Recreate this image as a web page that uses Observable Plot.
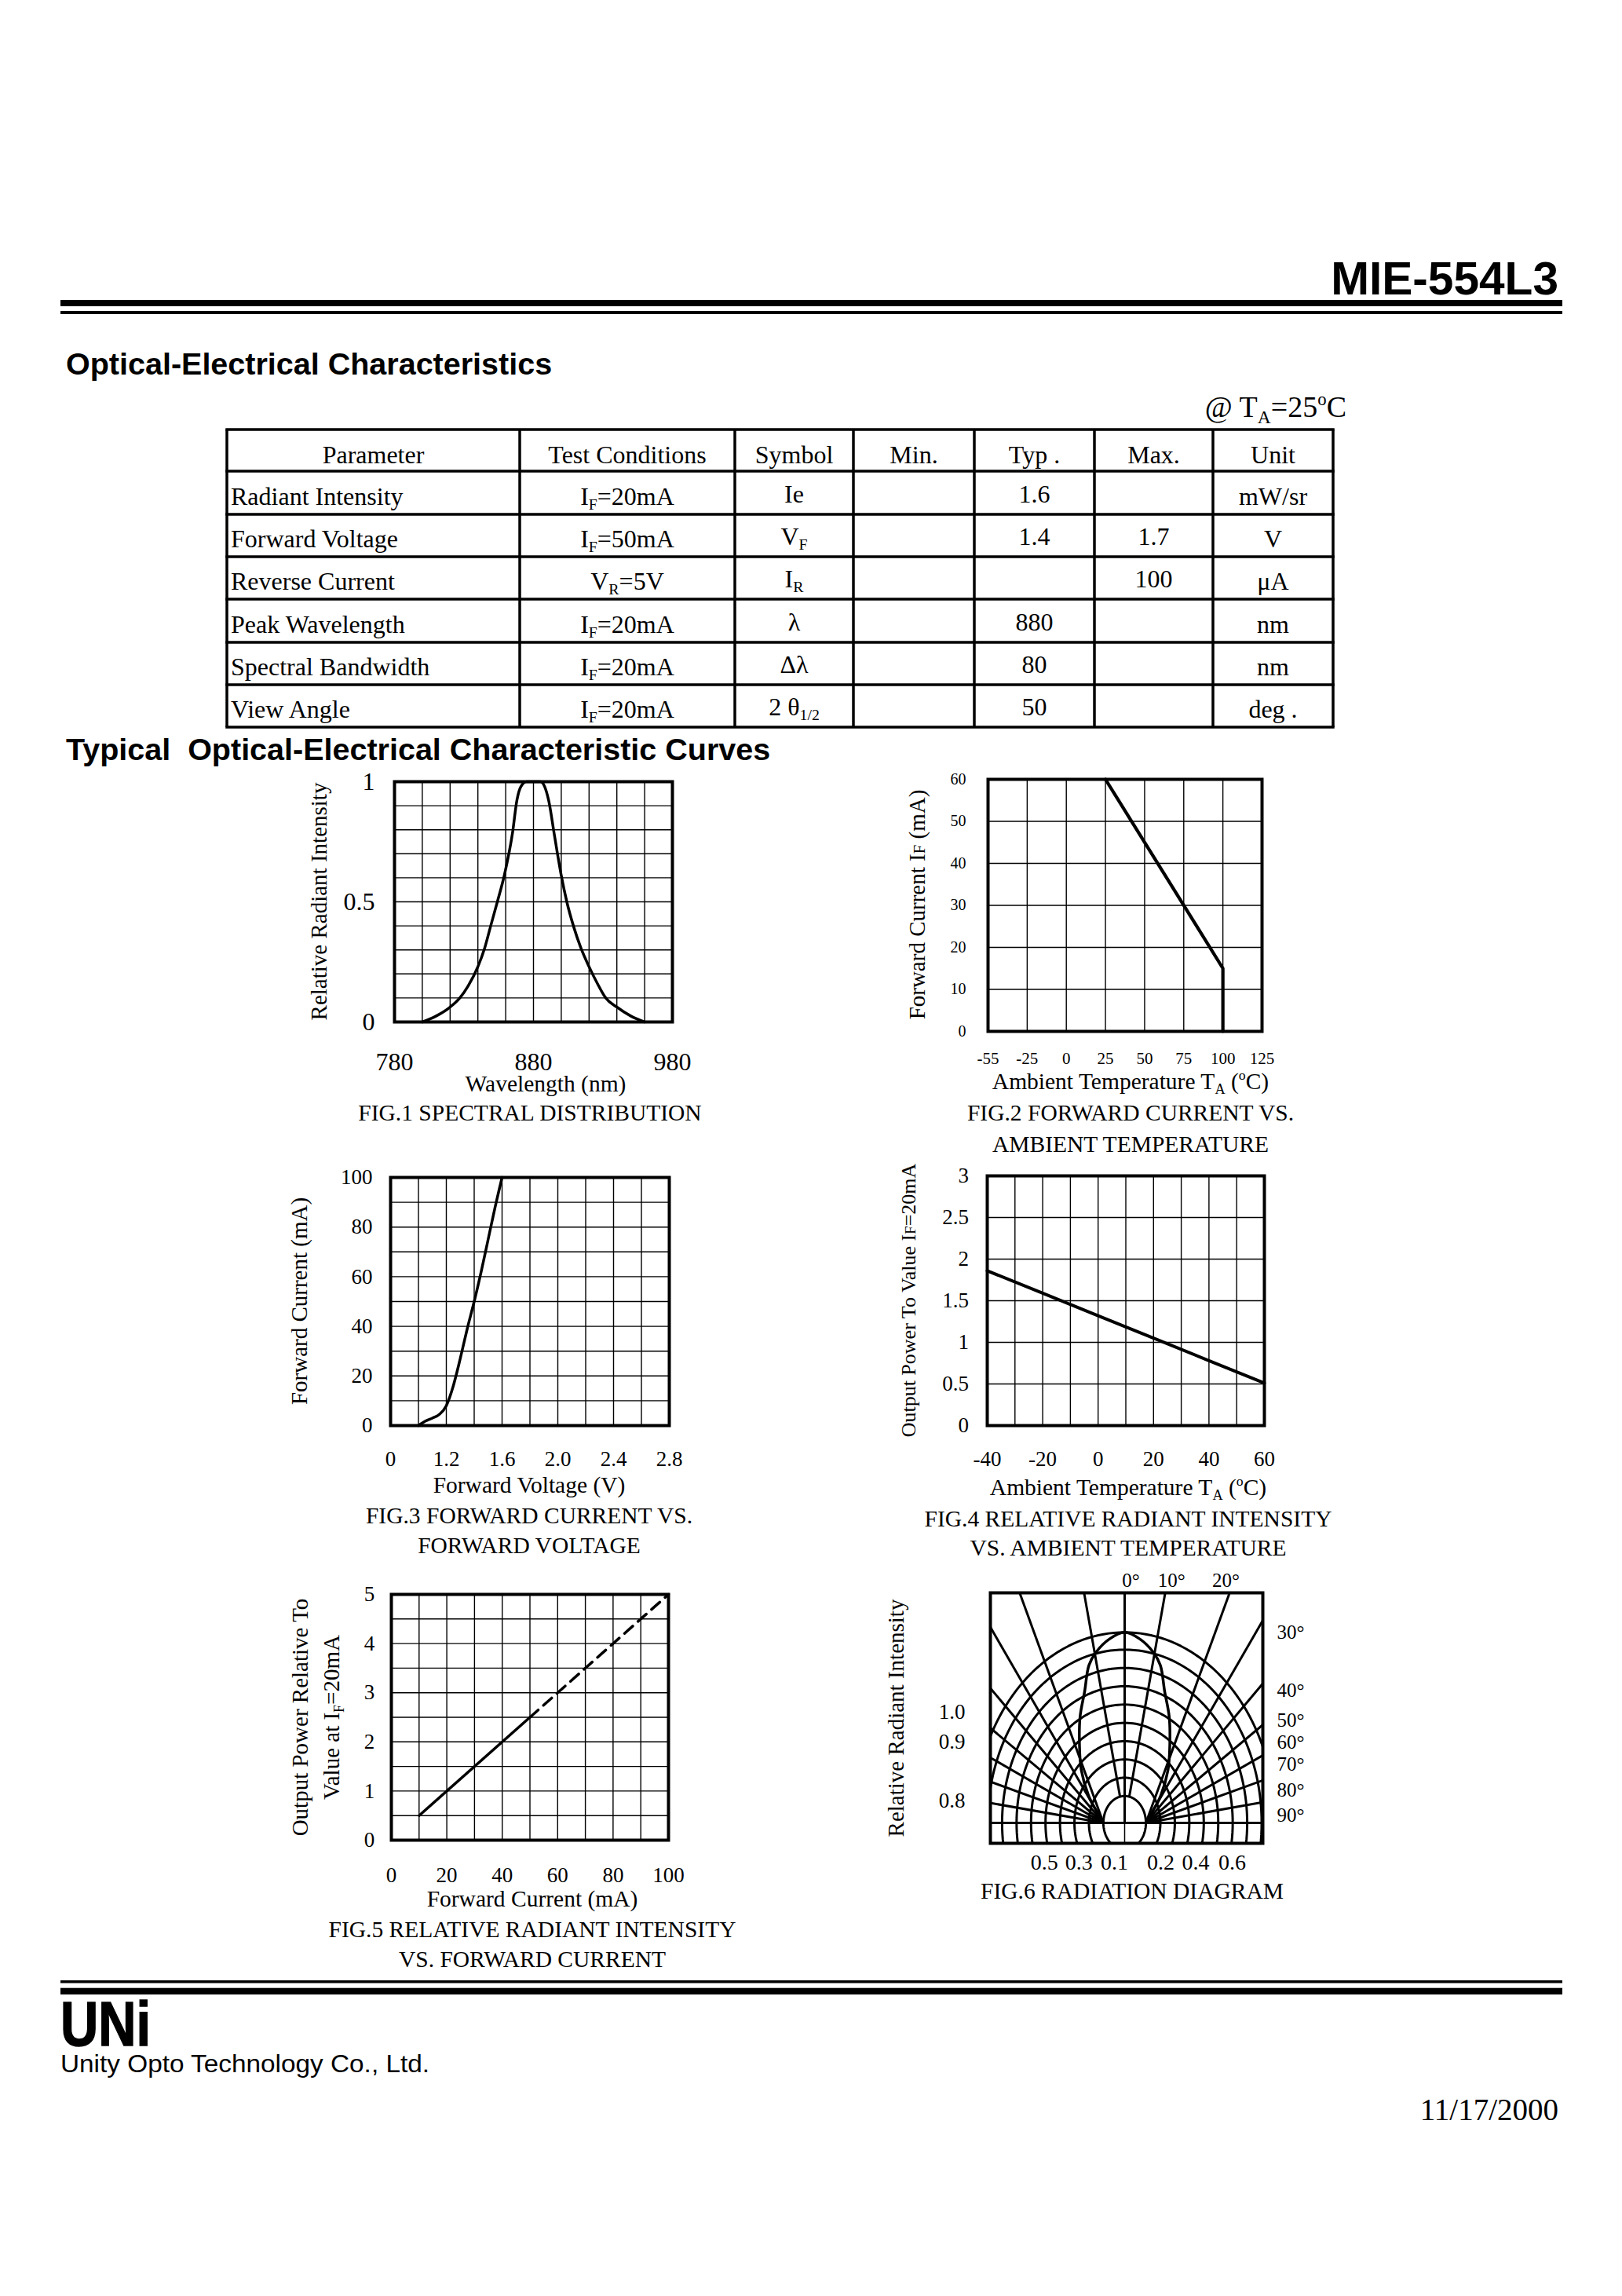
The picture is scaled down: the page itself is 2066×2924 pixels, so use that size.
<!DOCTYPE html>
<html><head><meta charset="utf-8">
<script src="https://cdn.jsdelivr.net/npm/d3@7"></script>
<script src="https://cdn.jsdelivr.net/npm/@observablehq/plot@0.6"></script>
<style>
html,body{margin:0;padding:0;background:#fff;overflow:hidden;}
#page{position:relative;width:2066px;height:2924px;background:#fff;overflow:hidden;}
#page svg.layer{position:absolute;left:0;top:0;}
</style></head><body><div id="page"></div>
<script>
// ---------------- DATA ----------------
const partNumber = "MIE-554L3";
const headingTable = "Optical-Electrical Characteristics";
const headingCurves = "Typical  Optical-Electrical Characteristic Curves";
const companyName = "Unity Opto Technology Co., Ltd.";
const docDate = "11/17/2000";

const tableHeader = ["Parameter","Test Conditions","Symbol","Min.","Typ .","Max.","Unit"];
const tableParameters = ["Radiant Intensity","Forward Voltage","Reverse Current","Peak Wavelength","Spectral Bandwidth","View Angle"];
const tableConditions = [["I","F","=20mA"],["I","F","=50mA"],["V","R","=5V"],["I","F","=20mA"],["I","F","=20mA"],["I","F","=20mA"]];
const tableSymbols = [["Ie",""],["V","F"],["I","R"],["λ",""],["Δλ",""],["2 θ","1/2"]];
const tableMin = ["","","","","",""];
const tableTyp = ["1.6","1.4","","880","80","50"];
const tableMax = ["","1.7","100","","",""];
const tableUnits = ["mW/sr","V","μA","nm","nm","deg ."];

// FIG.1 spectral distribution
const fig1Wavelength = [800,810,820,827,833,840,845,849,854,859,865,868,871,875,880,885,888,891,895,900,904,909,914,920,926,932,940,950,960];
const fig1Intensity  = [0,0.025,0.062,0.10,0.15,0.23,0.31,0.395,0.50,0.61,0.79,0.92,0.98,1.0,1.0,1.0,0.98,0.92,0.78,0.61,0.50,0.395,0.31,0.23,0.16,0.10,0.062,0.025,0];
const fig1GridX = [780,800,820,840,860,880,900,920,940,960,980];
const fig1GridY = [0,0.1,0.2,0.3,0.4,0.5,0.6,0.7,0.8,0.9,1];
const fig1TicksX = [780,880,980];
const fig1TicksY = [0,0.5,1];

// FIG.2 forward current vs ambient temperature (first column labelled -55)
const fig2Temp = [25,100,100];
const fig2Current = [60,15,0];
const fig2GridX = [-50,-25,0,25,50,75,100,125];
const fig2TickLabelsX = ["-55","-25","0","25","50","75","100","125"];
const fig2TicksY = [0,10,20,30,40,50,60];

// FIG.3 forward current vs forward voltage (axis starts at 0.8 V, labelled 0)
const fig3Voltage = [1.0,1.05,1.1,1.15,1.2,1.25,1.3,1.35,1.4,1.45,1.5,1.55,1.6];
const fig3Current = [0,1.8,3,4.5,8,16,27,39,50,62,75,88,100];
const fig3GridX = [0.8,1.0,1.2,1.4,1.6,1.8,2.0,2.2,2.4,2.6,2.8];
const fig3GridY = [0,10,20,30,40,50,60,70,80,90,100];
const fig3TicksX = [0.8,1.2,1.6,2.0,2.4,2.8];
const fig3TickLabelsX = ["0","1.2","1.6","2.0","2.4","2.8"];
const fig3TicksY = [0,20,40,60,80,100];

// FIG.4 relative radiant intensity vs ambient temperature
const fig4Temp = [-40,-20,0,20,40,60];
const fig4Power = [1.86,1.59,1.32,1.05,0.78,0.51];
const fig4GridX = [-40,-30,-20,-10,0,10,20,30,40,50,60];
const fig4GridY = [0,0.5,1,1.5,2,2.5,3];
const fig4TicksX = [-40,-20,0,20,40,60];
const fig4TicksY = [0,0.5,1,1.5,2,2.5,3];

// FIG.5 relative radiant intensity vs forward current
const fig5SolidCurrent = [10,50];
const fig5SolidPower = [0.5,2.5];
const fig5DashCurrent = [50,100];
const fig5DashPower = [2.5,5];
const fig5GridX = [0,10,20,30,40,50,60,70,80,90,100];
const fig5GridY = [0,0.5,1,1.5,2,2.5,3,3.5,4,4.5,5];
const fig5TicksX = [0,20,40,60,80,100];
const fig5TicksY = [0,1,2,3,4,5];

// FIG.6 radiation diagram
const fig6RingRadii = [0.141,0.237,0.333,0.429,0.525,0.621,0.717,0.813,0.909,1.0];
const fig6RadialAngles = [10,20,30,40,50,60,70,80];
const fig6LobeAngle = [0,6,12,16,21,28,36,46,59,72,90];
const fig6LobeIntensity = [1.0,0.97,0.915,0.86,0.74,0.63,0.51,0.40,0.28,0.195,0.141];
const fig6TopLabels = [{t:"0°",x:0.042},{t:"10°",x:0.311},{t:"20°",x:0.672}];
const fig6RightLabels = [{t:"30°",y:1.0},{t:"40°",y:0.693},{t:"50°",y:0.539},{t:"60°",y:0.423},{t:"70°",y:0.306},{t:"80°",y:0.169},{t:"90°",y:0.038}];
const fig6LeftLabels = [{t:"1.0",y:0.58},{t:"0.9",y:0.424},{t:"0.8",y:0.115}];
const fig6BottomLabels = [{t:"0.5",x:-0.533},{t:"0.3",x:-0.303},{t:"0.1",x:-0.068},{t:"0.2",x:0.24},{t:"0.4",x:0.471},{t:"0.6",x:0.713}];

// ---------------- HELPERS ----------------
const page = document.getElementById("page");
const serif = "'Liberation Serif','Times New Roman',serif";
const sans = "'Liberation Sans',Arial,Helvetica,sans-serif";

function rich(sel, x, y, parts, o = {}) {
  const size = o.size || 29.5;
  const t = sel.append("text")
    .attr("font-family", o.family || serif)
    .attr("font-size", size)
    .attr("text-anchor", o.anchor || "middle")
    .attr("fill", "#000")
    .style("white-space", "pre");
  if (o.weight) t.attr("font-weight", o.weight);
  if (o.rotate) t.attr("transform", `translate(${x},${y}) rotate(-90)`);
  else t.attr("x", x).attr("y", y);
  if (o.textLength) t.attr("textLength", o.textLength).attr("lengthAdjust", "spacingAndGlyphs");
  if (o.stroke) t.attr("stroke", "#000").attr("stroke-width", o.stroke);
  let shift = 0;
  for (const p of parts) {
    const s = typeof p === "string" ? {t: p} : p;
    if (s.t === "") continue;
    let target = 0, fs = size;
    if (s.sub) { target = size * 0.2; fs = size * 0.62; }
    else if (s.sup) { target = -size * 0.4; fs = size * 0.6; }
    else if (s.small) { fs = size * 0.72; }
    const ts = t.append("tspan").attr("font-size", fs).text(s.t);
    if (target !== shift) { ts.attr("dy", target - shift); shift = target; }
  }
  return t;
}

// ---------------- PAGE LAYER ----------------
const layer = d3.create("svg").attr("class","layer").attr("width",2066).attr("height",2924);
page.appendChild(layer.node());
layer.append("rect").attr("x",77).attr("y",382).attr("width",1913).attr("height",8);
layer.append("rect").attr("x",77).attr("y",396).attr("width",1913).attr("height",4);
rich(layer, 1985, 375, [partNumber], {size:58.6, family:sans, weight:"bold", anchor:"end"});
rich(layer, 84, 477, [headingTable], {size:39.5, family:sans, weight:"bold", anchor:"start"});
rich(layer, 1715, 531, ["@ T", {t:"A", sub:true}, "=25", {t:"o", sup:true}, "C"], {size:38, anchor:"end"});

// table
const colX = [289, 662, 936, 1087, 1241, 1394, 1545, 1698];
const rowY = [547, 600, 655, 709, 763, 818, 872, 926];
const tg = layer.append("g").attr("stroke","#000").attr("stroke-width",3.5);
rowY.forEach(y => tg.append("line").attr("x1", colX[0]-1.75).attr("x2", colX[7]+1.75).attr("y1", y).attr("y2", y));
colX.forEach(x => tg.append("line").attr("x1", x).attr("x2", x).attr("y1", rowY[0]).attr("y2", rowY[7]));
const colC = colX.slice(0,-1).map((x,i) => (x + colX[i+1]) / 2);
tableHeader.forEach((h,i) => rich(layer, colC[i], rowY[1]-10, [h], {size:32}));
for (let r = 0; r < tableParameters.length; r++) {
  const yb = rowY[r+2];
  rich(layer, 294, yb-12, [tableParameters[r]], {size:32, anchor:"start"});
  const c = tableConditions[r];
  rich(layer, colC[1], yb-12, [c[0], {t:c[1], sub:true}, c[2]], {size:32});
  const s = tableSymbols[r];
  rich(layer, colC[2], yb-15, [s[0], {t:s[1], sub:true}], {size:32});
  rich(layer, colC[3], yb-15, [tableMin[r]], {size:32});
  rich(layer, colC[4], yb-15, [tableTyp[r]], {size:32});
  rich(layer, colC[5], yb-15, [tableMax[r]], {size:32});
  rich(layer, colC[6], yb-12, [tableUnits[r]], {size:32});
}
rich(layer, 84, 968, [headingCurves], {size:39.5, family:sans, weight:"bold", anchor:"start"});

// footer
layer.append("rect").attr("x",77).attr("y",2522).attr("width",1913).attr("height",3.5);
layer.append("rect").attr("x",77).attr("y",2531.7).attr("width",1913).attr("height",8.3);
rich(layer, 77, 2605, ["UNi"], {size:80, family:sans, weight:"bold", anchor:"start", textLength:115, stroke:1.5});
rich(layer, 77, 2639, [companyName], {size:31, family:sans, anchor:"start", textLength:470});
rich(layer, 1985, 2700, [docDate], {size:39, anchor:"end"});

// ---------------- CHARTS ----------------
const gridStyle = {stroke:"#000", strokeOpacity:1, strokeWidth:1.4};
const fmt = d => String(d);

function build(f, scales, marks, fontSize) {
  const fw = f.R - f.L, fh = f.B - f.T;
  const svg = Plot.plot({
    width: f.mL + fw + f.mR, height: f.mT + fh + f.mB,
    marginLeft: f.mL, marginRight: f.mR, marginTop: f.mT, marginBottom: f.mB,
    ...scales,
    style: {fontFamily: serif, fontSize: fontSize + "px", color: "#000", background: "transparent", overflow: "visible"},
    marks
  });
  const ox = f.L - f.mL, oy = f.T - f.mT;
  svg.style.position = "absolute";
  svg.style.left = ox + "px";
  svg.style.top = oy + "px";
  page.appendChild(svg);
  const g = d3.select(svg).append("g");
  return (x, y, parts, o) => rich(g, x - ox, y - oy, parts, o);
}

// FIG.1
{
  const F = {L:502,T:995,R:856,B:1301,mL:140,mT:30,mR:70,mB:140};
  const txt = build(F, {x:{domain:[780,980], axis:null}, y:{domain:[0,1], axis:null}}, [
    Plot.gridX(fig1GridX, gridStyle),
    Plot.gridY(fig1GridY, gridStyle),
    Plot.line(fig1Intensity, {x: fig1Wavelength, y: fig1Intensity, curve:"monotone-x", stroke:"#000", strokeWidth:3.5}),
    Plot.frame({stroke:"#000", strokeWidth:4}),
    Plot.axisX(fig1TicksX, {tickSize:0, tickPadding:38.3, fontSize:32, tickFormat:fmt, label:null}),
    Plot.axisY(fig1TicksY, {tickSize:0, tickPadding:25, fontSize:32, tickFormat:fmt, label:null})
  ], 32);
  txt(416, 1148, ["Relative Radiant Intensity"], {size:29, rotate:true});
  txt(695, 1390, ["Wavelength (nm)"], {size:29.5});
  txt(675, 1427, ["FIG.1 SPECTRAL DISTRIBUTION"], {size:29.5});
}

// FIG.2
{
  const F = {L:1258,T:992,R:1607,B:1313,mL:130,mT:30,mR:70,mB:165};
  const txt = build(F, {x:{domain:[-50,125], axis:null}, y:{domain:[0,60], axis:null}}, [
    Plot.gridX(fig2GridX, gridStyle),
    Plot.gridY(fig2TicksY, gridStyle),
    Plot.line(fig2Current, {x: fig2Temp, y: fig2Current, stroke:"#000", strokeWidth:4.2}),
    Plot.frame({stroke:"#000", strokeWidth:4}),
    Plot.axisX(fig2GridX, {tickSize:0, tickPadding:27, fontSize:21, tickFormat: d => fig2TickLabelsX[fig2GridX.indexOf(d)], label:null}),
    Plot.axisY(fig2TicksY, {tickSize:0, tickPadding:28, fontSize:20, tickFormat:fmt, label:null})
  ], 21);
  txt(1178, 1152, ["Forward Current I", {t:"F", small:true}, " (mA)"], {size:29, rotate:true});
  txt(1440, 1387, ["Ambient Temperature T", {t:"A", sub:true}, " (", {t:"o", sup:true}, "C)"], {size:29.5});
  txt(1440, 1427, ["FIG.2 FORWARD CURRENT VS."], {size:29.5});
  txt(1440, 1467, ["AMBIENT TEMPERATURE"], {size:29.5});
}

// FIG.3
{
  const F = {L:497,T:1499,R:852,B:1815,mL:140,mT:30,mR:70,mB:175};
  const txt = build(F, {x:{domain:[0.8,2.8], axis:null}, y:{domain:[0,100], axis:null}}, [
    Plot.gridX(fig3GridX, gridStyle),
    Plot.gridY(fig3GridY, gridStyle),
    Plot.line(fig3Current, {x: fig3Voltage, y: fig3Current, curve:"monotone-x", stroke:"#000", strokeWidth:3.5}),
    Plot.frame({stroke:"#000", strokeWidth:4}),
    Plot.axisX(fig3TicksX, {tickSize:0, tickPadding:32.8, fontSize:27, tickFormat: d => fig3TickLabelsX[fig3TicksX.indexOf(d)], label:null}),
    Plot.axisY(fig3TicksY, {tickSize:0, tickPadding:23, fontSize:27, tickFormat:fmt, label:null})
  ], 27);
  txt(391, 1657, ["Forward Current (mA)"], {size:29, rotate:true});
  txt(674, 1901, ["Forward Voltage (V)"], {size:29.5});
  txt(674, 1940, ["FIG.3 FORWARD CURRENT VS."], {size:29.5});
  txt(674, 1978, ["FORWARD VOLTAGE"], {size:29.5});
}

// FIG.4
{
  const F = {L:1257,T:1497,R:1610,B:1815,mL:130,mT:30,mR:100,mB:175};
  const txt = build(F, {x:{domain:[-40,60], axis:null}, y:{domain:[0,3], axis:null}}, [
    Plot.gridX(fig4GridX, gridStyle),
    Plot.gridY(fig4GridY, gridStyle),
    Plot.line(fig4Power, {x: fig4Temp, y: fig4Power, stroke:"#000", strokeWidth:4}),
    Plot.frame({stroke:"#000", strokeWidth:4}),
    Plot.axisX(fig4TicksX, {tickSize:0, tickPadding:32.8, fontSize:27, tickFormat:fmt, label:null}),
    Plot.axisY(fig4TicksY, {tickSize:0, tickPadding:23.5, fontSize:27, tickFormat:fmt, label:null})
  ], 27);
  txt(1166, 1656, ["Output Power To Value I", {t:"F", small:true}, "=20mA"], {size:26, rotate:true});
  txt(1437, 1904, ["Ambient Temperature T", {t:"A", sub:true}, " (", {t:"o", sup:true}, "C)"], {size:29.5});
  txt(1437, 1944, ["FIG.4 RELATIVE RADIANT INTENSITY"], {size:29.5});
  txt(1437, 1981, ["VS. AMBIENT TEMPERATURE"], {size:29.5});
}

// FIG.5
{
  const F = {L:498,T:2030,R:851,B:2343,mL:140,mT:20,mR:100,mB:175};
  const txt = build(F, {x:{domain:[0,100], axis:null}, y:{domain:[0,5], axis:null}}, [
    Plot.gridX(fig5GridX, gridStyle),
    Plot.gridY(fig5GridY, gridStyle),
    Plot.line(fig5SolidPower, {x: fig5SolidCurrent, y: fig5SolidPower, stroke:"#000", strokeWidth:3.5}),
    Plot.line(fig5DashPower, {x: fig5DashCurrent, y: fig5DashPower, stroke:"#000", strokeWidth:3.5, strokeDasharray:"14,9"}),
    Plot.frame({stroke:"#000", strokeWidth:4}),
    Plot.axisX(fig5TicksX, {tickSize:0, tickPadding:34.5, fontSize:27, tickFormat:fmt, label:null}),
    Plot.axisY(fig5TicksY, {tickSize:0, tickPadding:21.3, fontSize:27, tickFormat:fmt, label:null})
  ], 27);
  txt(392, 2187, ["Output Power Relative To"], {size:29, rotate:true});
  txt(432, 2187, ["Value at I", {t:"F", sub:true}, "=20mA"], {size:29, rotate:true});
  txt(678, 2428, ["Forward Current (mA)"], {size:29.5});
  txt(678, 2467, ["FIG.5 RELATIVE RADIANT INTENSITY"], {size:29.5});
  txt(678, 2505, ["VS. FORWARD CURRENT"], {size:29.5});
}

// FIG.6
{
  const F = {L:1261,T:2028,R:1608,B:2347,mL:135,mT:40,mR:80,mB:85};
  const cx = 1432, cy = 2321, ax = 192, ay = 242.7; // polar centre and px per unit
  const xDom = [(F.L - cx)/ax, (F.R - cx)/ax];
  const yDom = [(cy - F.B)/ay, (cy - F.T)/ay];
  const ringPts = fig6RingRadii.flatMap(r => d3.range(0, 361, 2).map(a => ({r, x: r*Math.sin(a*Math.PI/180), y: r*Math.cos(a*Math.PI/180)})));
  const r0 = fig6RingRadii[0];
  const radial = [];
  for (const a of fig6RadialAngles) for (const s of [-1, 1]) {
    const th = a * Math.PI / 180;
    const dx = s * Math.sin(th) / ax, dy = Math.cos(th) / ay;
    let x1, y1;
    if (a === 10) { const n = Math.hypot(dx, dy); x1 = r0*dx/n; y1 = r0*dy/n; }
    else { x1 = s * r0; y1 = 0; }
    radial.push({x1, y1, x2: x1 + dx*800, y2: y1 + dy*800});
  }
  const lobe = [];
  for (let i = fig6LobeAngle.length - 1; i > 0; i--) lobe.push({a: -fig6LobeAngle[i], v: fig6LobeIntensity[i]});
  for (let i = 0; i < fig6LobeAngle.length; i++) lobe.push({a: fig6LobeAngle[i], v: fig6LobeIntensity[i]});
  const lobePts = lobe.map(d => ({x: d.v*Math.sin(d.a*Math.PI/180), y: d.v*Math.cos(d.a*Math.PI/180)}));

  const txt = build(F, {x:{domain:xDom, axis:null}, y:{domain:yDom, axis:null}}, [
    Plot.line(ringPts, {x:"x", y:"y", z:"r", stroke:"#000", strokeWidth:3, clip:true}),
    Plot.link(radial, {x1:"x1", y1:"y1", x2:"x2", y2:"y2", stroke:"#000", strokeWidth:3, clip:true}),
    Plot.ruleY([0], {stroke:"#000", strokeWidth:3}),
    Plot.ruleX([0], {y1:0, y2:yDom[1], stroke:"#000", strokeWidth:3}),
    Plot.ruleX([0], {y1:yDom[0], y2:0, stroke:"#000", strokeWidth:1.5}),
    Plot.line(lobePts, {x:"x", y:"y", curve:"catmull-rom", stroke:"#000", strokeWidth:3.5, clip:true}),
    Plot.frame({stroke:"#000", strokeWidth:4}),
    Plot.text(fig6TopLabels, {x:"x", text:"t", frameAnchor:"top", dy:-8, lineAnchor:"bottom", fontSize:25}),
    Plot.text(fig6RightLabels, {y:"y", text:"t", frameAnchor:"right", dx:18, textAnchor:"start", lineAnchor:"middle", fontSize:25}),
    Plot.text(fig6LeftLabels, {y:"y", text:"t", frameAnchor:"left", dx:-32, textAnchor:"end", lineAnchor:"middle", fontSize:27}),
    Plot.text(fig6BottomLabels, {x:"x", text:"t", frameAnchor:"bottom", dy:33, lineAnchor:"bottom", fontSize:28})
  ], 25);
  txt(1151, 2188, ["Relative Radiant Intensity"], {size:29, rotate:true});
  txt(1442, 2418, ["FIG.6 RADIATION DIAGRAM"], {size:29.5});
}
</script></body></html>
